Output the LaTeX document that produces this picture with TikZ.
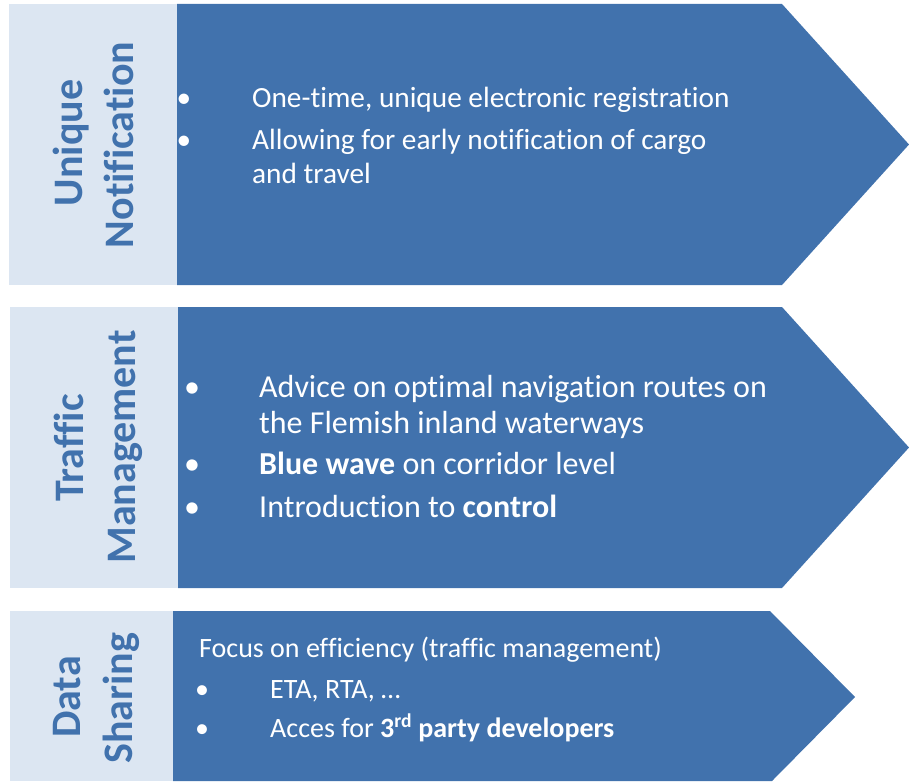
\documentclass[tikz,border=0pt]{standalone}
\usepackage{fontspec}
\setmainfont{Carlito}[Ligatures=NoCommon]
\definecolor{bandblue}{RGB}{65,114,173}
\definecolor{tabblue}{RGB}{220,230,242}

\begin{document}
\begin{tikzpicture}[x=1pt,y=-1pt,
  tab/.style={rotate=90,anchor=base,inner sep=0pt,text=bandblue,font=\fontsize{42}{50}\selectfont\bfseries},
  itemtext/.style={anchor=base west,inner sep=0pt,text=white},
  bulletmark/.style={anchor=base,inner sep=0pt,text=white}]
\useasboundingbox (0,0) rectangle (909,781);
% Unique Notification
\fill[tabblue] (9,4) rectangle (177,285);
\fill[bandblue] (177,4) -- (782,4) -- (909,144.5) -- (782,285) -- (177,285) -- cycle;
\node[tab] (uniq) at (82,143) {Unique};
\node[tab] (notif) at (133,145) {Notification};
\begin{scope}[font=\fontsize{29.3}{34}\selectfont]
\node[bulletmark] (b11) at (184,107) {•};
\node[itemtext] (t11) at (252,107) {One-time, unique electronic registration};
\node[bulletmark] (b12) at (184,149) {•};
\node[itemtext] (t12) at (252,149) {Allowing for early notification of cargo};
\node[itemtext] (t13) at (252,183) {and travel};
\end{scope}
% Traffic Management
\fill[tabblue] (10,307) rectangle (178,588);
\fill[bandblue] (178,307) -- (782,307) -- (909,447.5) -- (782,588) -- (178,588) -- cycle;
\node[tab] (traf) at (83,448) {Traffic};
\node[tab] (mgmt) at (135,447) {Management};
\begin{scope}[font=\fontsize{32}{35}\selectfont]
\node[bulletmark] (b21) at (192,397) {•};
\node[itemtext] (t21) at (259,397) {Advice on optimal navigation routes on};
\node[itemtext] (t22) at (259,433) {the Flemish inland waterways};
\node[bulletmark] (b22) at (192,474) {•};
\node[itemtext] (t23) at (259,474) {\textbf{Blue wave} on corridor level};
\node[bulletmark] (b23) at (192,517) {•};
\node[itemtext] (t24) at (259,517) {Introduction to \textbf{control}};
\end{scope}
% Data Sharing
\fill[tabblue] (10,611) rectangle (173,781);
\fill[bandblue] (173,611) -- (770,611) -- (855,697) -- (772,781) -- (173,781) -- cycle;
\node[tab] (data) at (80,697) {Data};
\node[tab] (shar) at (132,698) {Sharing};
\begin{scope}[font=\fontsize{28}{32}\selectfont]
\node[itemtext] (t31) at (199,657) {Focus on efficiency (traffic management)};
\node[bulletmark] (b31) at (202,698) {•};
\node[itemtext] (t32) at (270,698) {ETA, RTA, …};
\node[bulletmark] (b32) at (202,737) {•};
\node[itemtext] (t33) at (270,737) {Acces for \textbf{3\textsuperscript{rd} party developers}};
\end{scope}
\end{tikzpicture}
\end{document}
